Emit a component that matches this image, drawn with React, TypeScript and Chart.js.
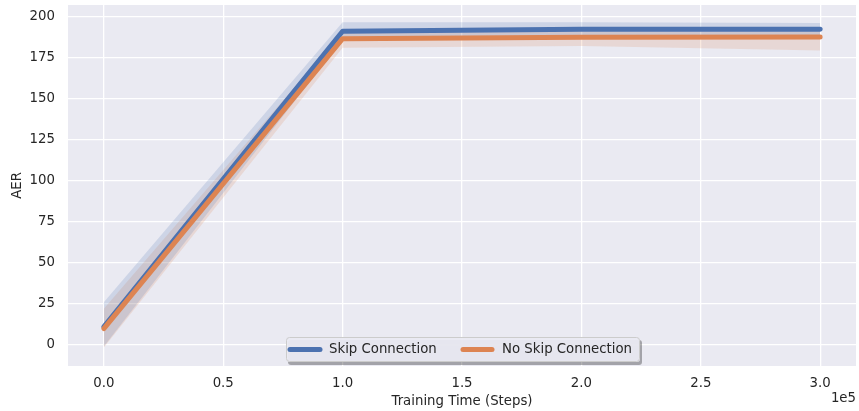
import React, { useEffect, useRef } from "react";
import { Chart, registerables } from "chart.js";
Chart.register(...registerables);

const steps = [0, 100000, 200000, 300000];
const skipMean = [11, 191, 192.3, 192.2];
const skipUpper = [26, 196.5, 196.5, 196];
const skipLower = [-1, 186, 188, 188];
const noSkipMean = [10, 186.5, 187.3, 187.5];
const noSkipUpper = [22, 191, 191, 191];
const noSkipLower = [-1.5, 181, 182, 179.3];
const xTicks = [0, 50000, 100000, 150000, 200000, 250000, 300000];
const yTicks = [0, 25, 50, 75, 100, 125, 150, 175, 200];
const seriesNames = ["Skip Connection", "No Skip Connection"];
const xTitle = "Training Time (Steps)";
const yTitle = "AER";
const offsetText = "1e5";

const BLUE = "#4c72b0";
const ORANGE = "#dd8452";
const FONT = "DejaVu Sans";
const TEXT = "#262626";

const pts = (ys: number[]) => steps.map((x, i) => ({ x, y: ys[i] }));

export default function App() {
  const ref = useRef<HTMLCanvasElement>(null);
  useEffect(() => {
    const bgPlugin = {
      id: "bg",
      beforeDraw(chart: any) {
        const { ctx, chartArea: a } = chart;
        ctx.save();
        ctx.fillStyle = "#eaeaf2";
        ctx.fillRect(a.left, a.top, a.right - a.left, a.bottom - a.top);
        ctx.restore();
      },
      afterDraw(chart: any) {
        const { ctx, chartArea: a } = chart;
        ctx.save();
        ctx.font = `13.3px "${FONT}"`;
        ctx.fillStyle = TEXT;
        ctx.textAlign = "right";
        ctx.textBaseline = "middle";
        ctx.fillText(offsetText, a.right, 399);
        // legend
        const bx = 286, by = 337, bw = 354, bh = 25;
        const rr = (x: number, y: number, w: number, h: number, r: number) => {
          ctx.beginPath();
          ctx.moveTo(x + r, y);
          ctx.arcTo(x + w, y, x + w, y + h, r);
          ctx.arcTo(x + w, y + h, x, y + h, r);
          ctx.arcTo(x, y + h, x, y, r);
          ctx.arcTo(x, y, x + w, y, r);
          ctx.closePath();
        };
        ctx.fillStyle = "rgba(0,0,0,0.3)";
        rr(bx + 2, by + 3, bw, bh, 3);
        ctx.fill();
        ctx.fillStyle = "rgba(234,234,242,0.95)";
        rr(bx, by, bw, bh, 3);
        ctx.fill();
        ctx.strokeStyle = "#cccccc";
        ctx.lineWidth = 1;
        rr(bx + 0.5, by + 0.5, bw - 1, bh - 1, 3);
        ctx.stroke();
        const cy = by + bh / 2;
        const items = [
          { c: BLUE, x0: 290, x1: 320, tx: 329, t: seriesNames[0] },
          { c: ORANGE, x0: 463, x1: 492, tx: 502, t: seriesNames[1] },
        ];
        items.forEach((it) => {
          ctx.strokeStyle = it.c;
          ctx.lineWidth = 5;
          ctx.lineCap = "round";
          ctx.beginPath();
          ctx.moveTo(it.x0, cy);
          ctx.lineTo(it.x1, cy);
          ctx.stroke();
          ctx.fillStyle = TEXT;
          ctx.textAlign = "left";
          ctx.textBaseline = "middle";
          ctx.fillText(it.t, it.tx, cy);
        });
        ctx.restore();
      },
    };

    const lineDs = (label: string, data: number[], color: string) => ({
      label,
      data: pts(data),
      borderColor: color,
      backgroundColor: color,
      borderWidth: 5,
      borderCapStyle: "round",
      borderJoinStyle: "round",
      pointRadius: 0,
      fill: false,
      tension: 0,
    });
    const bandDs = (data: number[], color: string, target: number | false) => ({
      label: "",
      data: pts(data),
      borderWidth: 0,
      borderColor: "rgba(0,0,0,0)",
      backgroundColor: color,
      pointRadius: 0,
      fill: target === false ? false : { target },
      tension: 0,
    });

    const chart = new Chart(ref.current!, {
      type: "line",
      data: {
        datasets: [
          lineDs(seriesNames[1], noSkipMean, ORANGE),
          lineDs(seriesNames[0], skipMean, BLUE),
          bandDs(skipUpper, "rgba(76,114,176,0.18)", 3),
          bandDs(skipLower, "rgba(76,114,176,0.18)", false),
          bandDs(noSkipUpper, "rgba(221,132,82,0.18)", 5),
          bandDs(noSkipLower, "rgba(221,132,82,0.18)", false),
        ] as any,
      },
      options: {
        animation: false,
        responsive: false,
        layout: { padding: { top: 5, right: 3, left: 0, bottom: 0 } },
        plugins: { legend: { display: false }, tooltip: { enabled: false } },
        scales: {
          x: {
            type: "linear",
            min: -15000,
            max: 315000,
            afterBuildTicks: (s: any) => {
              s.ticks = xTicks.map((v) => ({ value: v }));
            },
            afterFit: (s: any) => {
              s.height = 45;
              s.paddingLeft = 0;
              s.paddingRight = 0;
            },
            ticks: {
              padding: 10,
              color: TEXT,
              font: { family: FONT, size: 13.3 },
              callback: (v: any) => (Number(v) / 1e5).toFixed(1),
              maxRotation: 0,
            },
            grid: { color: "#ffffff", lineWidth: 1.3, drawTicks: false },
            border: { display: false },
            title: {
              display: true,
              text: xTitle,
              color: TEXT,
              font: { family: FONT, size: 13.3 },
              padding: 1,
            },
          },
          y: {
            type: "linear",
            min: -12.8,
            max: 207,
            afterBuildTicks: (s: any) => {
              s.ticks = yTicks.map((v) => ({ value: v }));
            },
            afterFit: (s: any) => {
              s.width = 68;
              s.paddingTop = 0;
              s.paddingBottom = 0;
            },
            ticks: {
              padding: 13,
              color: TEXT,
              font: { family: FONT, size: 13.3 },
            },
            grid: { color: "#ffffff", lineWidth: 1.3, drawTicks: false },
            border: { display: false },
            title: {
              display: true,
              text: yTitle,
              color: TEXT,
              font: { family: FONT, size: 13.3 },
              padding: 10,
            },
          },
        },
      } as any,
      plugins: [bgPlugin],
    });
    return () => chart.destroy();
  }, []);
  return (
    <div style={{ position: "absolute", left: 0, top: 0 }}>
      <canvas ref={ref} width={859} height={411} style={{ display: "block" }} />
    </div>
  );
}
